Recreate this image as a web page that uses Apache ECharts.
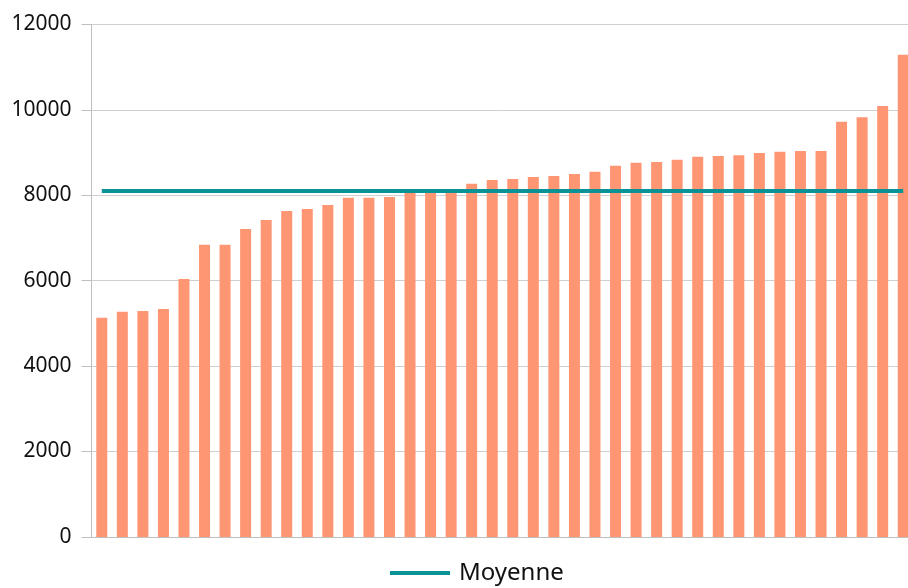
<!DOCTYPE html>
<html>
<head>
<meta charset="utf-8">
<script src="https://cdn.jsdelivr.net/npm/echarts@6/dist/echarts.min.js"></script>
<style>
html,body{margin:0;padding:0;background:#fff;}
#c{width:908px;height:588px;}
</style>
</head>
<body>
<div id="c"></div>
<script>
const categories = Array.from({length: 40}, (_, i) => String(i + 1));
const values = [5130, 5270, 5290, 5340, 6040, 6840, 6840, 7210, 7420, 7630,
  7680, 7770, 7940, 7940, 7960, 8090, 8100, 8110, 8270, 8360,
  8380, 8430, 8450, 8500, 8550, 8690, 8760, 8780, 8830, 8900,
  8920, 8940, 8990, 9020, 9040, 9040, 9720, 9830, 10090, 11290];
const average = 8100;
const averageLine = categories.map(() => average);
const yTicks = [0, 2000, 4000, 6000, 8000, 10000, 12000];

const chart = echarts.init(document.getElementById('c'), null, {renderer: 'canvas'});
chart.setOption({
  animation: false,
  textStyle: {fontFamily: 'Noto Sans'},
  grid: {left: 91.5, width: 822, top: 24.5, height: 512.4, containLabel: false, outerBoundsMode: 'none'},
  legend: {
    show: true,
    data: [{name: 'Moyenne', icon: 'rect'}],
    top: 561,
    left: 390,
    padding: 0,
    itemWidth: 60,
    itemHeight: 4,
    textStyle: {fontSize: 24, lineHeight: 24, color: '#111', fontFamily: 'Noto Sans', padding: [0, 0, 0, 4]}
  },
  xAxis: {
    type: 'category',
    data: categories,
    axisLabel: {show: false},
    axisTick: {show: false},
    axisLine: {lineStyle: {color: '#bfbfbf', width: 1}}
  },
  yAxis: {
    type: 'value',
    min: yTicks[0],
    max: yTicks[yTicks.length - 1],
    interval: 2000,
    axisLine: {show: true, lineStyle: {color: '#bfbfbf', width: 1}},
    axisTick: {show: true, length: 10, lineStyle: {color: '#bfbfbf'}},
    axisLabel: {fontSize: 21, color: '#111', margin: 20, fontFamily: 'Noto Sans',
      padding: [5, 0, 0, 0],
      formatter: v => String(v)},
    splitLine: {lineStyle: {color: '#cfcfcf', width: 1}}
  },
  series: [
    {
      name: 'Valeur',
      type: 'bar',
      data: values,
      barWidth: 11,
      itemStyle: {color: '#FF9673'},
      z: 2
    },
    {
      name: 'Moyenne',
      type: 'line',
      data: averageLine,
      symbol: 'none',
      lineStyle: {color: '#0A9396', width: 4},
      itemStyle: {color: '#0A9396'},
      z: 3
    }
  ]
});
</script>
</body>
</html>
